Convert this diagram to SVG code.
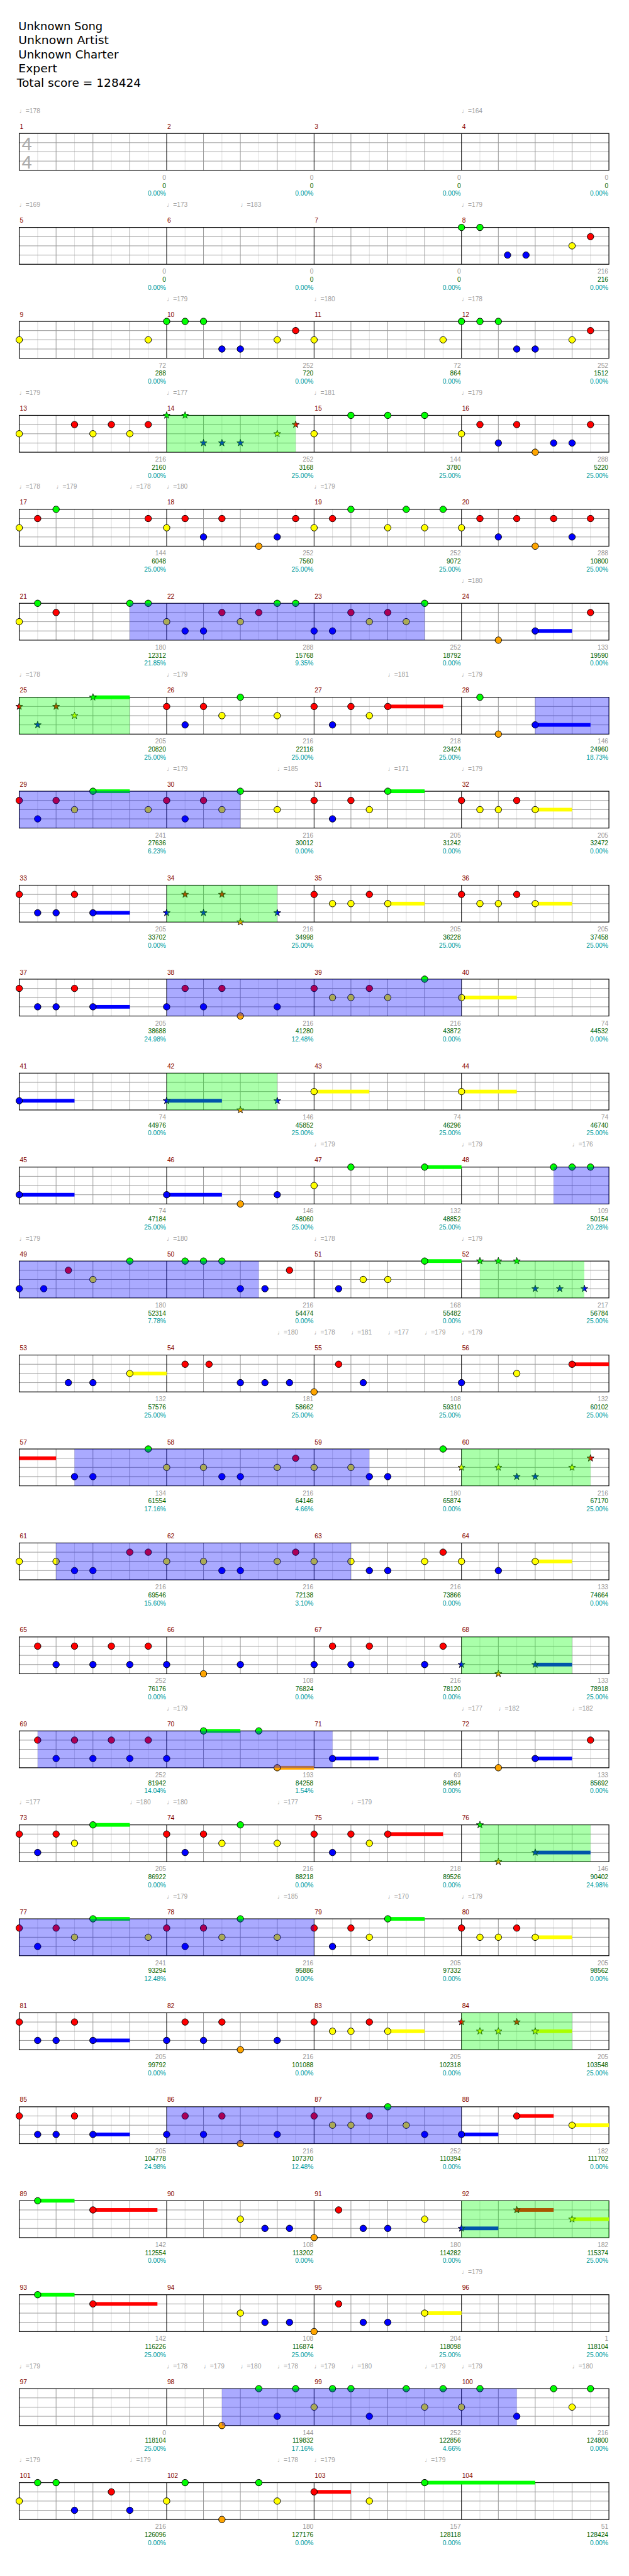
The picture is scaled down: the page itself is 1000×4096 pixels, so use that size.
<svg xmlns="http://www.w3.org/2000/svg" width="1000" height="4096" viewBox="0 0 1000 4096">
<style>
text{font-family:"Liberation Sans","DejaVu Sans",sans-serif}
.ti{font-family:"DejaVu Sans","Liberation Sans",sans-serif;font-size:18.5px;fill:#000}
.mn{font-size:10.5px;fill:#800000}
.tp{font-size:10.5px;fill:#a0a0a0}
.sc{font-size:10.5px;text-anchor:end}
.s1{fill:#999}.s2{fill:#006400}.s3{fill:#009999}
.ts{font-size:30px;fill:#aaa}
circle{stroke:#000;stroke-width:1}
.g{fill:#00ff00}.r{fill:#ff0000}.y{fill:#ffff00}.b{fill:#0000ff}.o{fill:#ffa500}
.bl{fill:#0000ff;fill-opacity:.333}
.gr{fill:#00ff00;fill-opacity:.333}
</style>
<defs>
<path id="st" d="M0,-6L1.41,-1.94L5.71,-1.85L2.28,0.74L3.53,4.85L0,2.4L-3.53,4.85L-2.28,0.74L-5.71,-1.85L-1.41,-1.94Z" stroke="#000" stroke-width="0.8"/>
<g id="staff">
<rect width="960" height="60" fill="#fff"/>
<path d="M30,0V60M90,0V60M150,0V60M210,0V60M270,0V60M330,0V60M390,0V60M450,0V60M510,0V60M570,0V60M630,0V60M690,0V60M750,0V60M810,0V60M870,0V60M930,0V60" stroke="#ddd" stroke-width="1" fill="none"/>
<path d="M60,0V60M120,0V60M180,0V60M300,0V60M360,0V60M420,0V60M540,0V60M600,0V60M660,0V60M780,0V60M840,0V60M900,0V60M0,15H960M0,30H960M0,45H960" stroke="#999" stroke-width="1" fill="none"/>
<path d="M240,0V60M480,0V60M720,0V60" stroke="#000" stroke-width="1" fill="none"/>
<rect width="960" height="60" fill="none" stroke="#000" stroke-width="1.2"/>
</g>
</defs>
<rect width="1000" height="4096" fill="#fff"/>
<g transform="scale(0.9765625)">
<g id="title">
<text class="ti" x="30" y="49" textLength="137" lengthAdjust="spacingAndGlyphs">Unknown Song</text>
<text class="ti" x="30" y="72" textLength="147" lengthAdjust="spacingAndGlyphs">Unknown Artist</text>
<text class="ti" x="30" y="95" textLength="163" lengthAdjust="spacingAndGlyphs">Unknown Charter</text>
<text class="ti" x="30" y="118" textLength="63" lengthAdjust="spacingAndGlyphs">Expert</text>
<text class="ti" x="27.5" y="141.5" textLength="202" lengthAdjust="spacingAndGlyphs">Total score = 128424</text>
</g>

<g id="row1" transform="translate(31.3,217.3)">
<use href="#staff"/>
<text class="ts" x="4" y="27">4</text><text class="ts" x="4" y="57.5">4</text>
<text class="tp" x="0" y="-33.3">♩=178</text><text class="tp" x="720" y="-33.3">♩=164</text>
<text class="mn" x="1" y="-7.6">1</text><text class="mn" x="241" y="-7.6">2</text><text class="mn" x="481" y="-7.6">3</text><text class="mn" x="721" y="-7.6">4</text>
<text class="sc"><tspan class="s1" x="239" y="75.4">0</tspan><tspan class="s2" x="239" y="88.4">0</tspan><tspan class="s3" x="239" y="101.5">0.00%</tspan></text>
<text class="sc"><tspan class="s1" x="479" y="75.4">0</tspan><tspan class="s2" x="479" y="88.4">0</tspan><tspan class="s3" x="479" y="101.5">0.00%</tspan></text>
<text class="sc"><tspan class="s1" x="719" y="75.4">0</tspan><tspan class="s2" x="719" y="88.4">0</tspan><tspan class="s3" x="719" y="101.5">0.00%</tspan></text>
<text class="sc"><tspan class="s1" x="959" y="75.4">0</tspan><tspan class="s2" x="959" y="88.4">0</tspan><tspan class="s3" x="959" y="101.5">0.00%</tspan></text>
</g>

<g id="row2" transform="translate(31.3,370.3)">
<use href="#staff"/>
<text class="tp" x="0" y="-33.3">♩=169</text><text class="tp" x="240" y="-33.3">♩=173</text><text class="tp" x="360" y="-33.3">♩=183</text><text class="tp" x="720" y="-33.3">♩=179</text>
<text class="mn" x="1" y="-7.6">5</text><text class="mn" x="241" y="-7.6">6</text><text class="mn" x="481" y="-7.6">7</text><text class="mn" x="721" y="-7.6">8</text>
<circle class="g" cx="720" cy="0" r="5.3"/><circle class="g" cx="750" cy="0" r="5.3"/><circle class="b" cx="795" cy="45" r="5.3"/><circle class="b" cx="825" cy="45" r="5.3"/><circle class="y" cx="900" cy="30" r="5.3"/><circle class="r" cx="930" cy="15" r="5.3"/>
<text class="sc"><tspan class="s1" x="239" y="75.4">0</tspan><tspan class="s2" x="239" y="88.4">0</tspan><tspan class="s3" x="239" y="101.5">0.00%</tspan></text>
<text class="sc"><tspan class="s1" x="479" y="75.4">0</tspan><tspan class="s2" x="479" y="88.4">0</tspan><tspan class="s3" x="479" y="101.5">0.00%</tspan></text>
<text class="sc"><tspan class="s1" x="719" y="75.4">0</tspan><tspan class="s2" x="719" y="88.4">0</tspan><tspan class="s3" x="719" y="101.5">0.00%</tspan></text>
<text class="sc"><tspan class="s1" x="959" y="75.4">216</tspan><tspan class="s2" x="959" y="88.4">216</tspan><tspan class="s3" x="959" y="101.5">0.00%</tspan></text>
</g>

<g id="row3" transform="translate(31.3,523.3)">
<use href="#staff"/>
<text class="tp" x="240" y="-33.3">♩=179</text><text class="tp" x="480" y="-33.3">♩=180</text><text class="tp" x="720" y="-33.3">♩=178</text>
<text class="mn" x="1" y="-7.6">9</text><text class="mn" x="241" y="-7.6">10</text><text class="mn" x="481" y="-7.6">11</text><text class="mn" x="721" y="-7.6">12</text>
<circle class="y" cx="0" cy="30" r="5.3"/><circle class="y" cx="210" cy="30" r="5.3"/><circle class="g" cx="240" cy="0" r="5.3"/><circle class="g" cx="270" cy="0" r="5.3"/><circle class="g" cx="300" cy="0" r="5.3"/><circle class="b" cx="330" cy="45" r="5.3"/><circle class="b" cx="360" cy="45" r="5.3"/><circle class="y" cx="420" cy="30" r="5.3"/><circle class="r" cx="450" cy="15" r="5.3"/><circle class="y" cx="480" cy="30" r="5.3"/><circle class="y" cx="690" cy="30" r="5.3"/><circle class="g" cx="720" cy="0" r="5.3"/><circle class="g" cx="750" cy="0" r="5.3"/><circle class="g" cx="780" cy="0" r="5.3"/><circle class="b" cx="810" cy="45" r="5.3"/><circle class="b" cx="840" cy="45" r="5.3"/><circle class="y" cx="900" cy="30" r="5.3"/><circle class="r" cx="930" cy="15" r="5.3"/>
<text class="sc"><tspan class="s1" x="239" y="75.4">72</tspan><tspan class="s2" x="239" y="88.4">288</tspan><tspan class="s3" x="239" y="101.5">0.00%</tspan></text>
<text class="sc"><tspan class="s1" x="479" y="75.4">252</tspan><tspan class="s2" x="479" y="88.4">720</tspan><tspan class="s3" x="479" y="101.5">0.00%</tspan></text>
<text class="sc"><tspan class="s1" x="719" y="75.4">72</tspan><tspan class="s2" x="719" y="88.4">864</tspan><tspan class="s3" x="719" y="101.5">0.00%</tspan></text>
<text class="sc"><tspan class="s1" x="959" y="75.4">252</tspan><tspan class="s2" x="959" y="88.4">1512</tspan><tspan class="s3" x="959" y="101.5">0.00%</tspan></text>
</g>

<g id="row4" transform="translate(31.3,676.3)">
<use href="#staff"/>
<text class="tp" x="0" y="-33.3">♩=179</text><text class="tp" x="240" y="-33.3">♩=177</text><text class="tp" x="480" y="-33.3">♩=181</text><text class="tp" x="720" y="-33.3">♩=179</text>
<text class="mn" x="1" y="-7.6">13</text><text class="mn" x="241" y="-7.6">14</text><text class="mn" x="481" y="-7.6">15</text><text class="mn" x="721" y="-7.6">16</text>
<circle class="y" cx="0" cy="30" r="5.3"/><circle class="r" cx="90" cy="15" r="5.3"/><circle class="y" cx="120" cy="30" r="5.3"/><circle class="r" cx="150" cy="15" r="5.3"/><circle class="y" cx="180" cy="30" r="5.3"/><circle class="r" cx="210" cy="15" r="5.3"/>
<use href="#st" class="g" x="240" y="0"/><use href="#st" class="g" x="270" y="0"/><use href="#st" class="b" x="300" y="45"/><use href="#st" class="b" x="330" y="45"/><use href="#st" class="b" x="360" y="45"/><use href="#st" class="y" x="420" y="30"/><use href="#st" class="r" x="450" y="15"/>
<circle class="y" cx="480" cy="30" r="5.3"/><circle class="g" cx="540" cy="0" r="5.3"/><circle class="g" cx="600" cy="0" r="5.3"/><circle class="g" cx="660" cy="0" r="5.3"/><circle class="y" cx="720" cy="30" r="5.3"/><circle class="r" cx="750" cy="15" r="5.3"/><circle class="b" cx="780" cy="45" r="5.3"/><circle class="r" cx="810" cy="15" r="5.3"/><circle class="o" cx="840" cy="60" r="5.3"/><circle class="b" cx="870" cy="45" r="5.3"/><circle class="b" cx="900" cy="45" r="5.3"/><circle class="r" cx="930" cy="15" r="5.3"/>
<rect class="gr" x="240" y="0" width="210" height="60"/>
<text class="sc"><tspan class="s1" x="239" y="75.4">216</tspan><tspan class="s2" x="239" y="88.4">2160</tspan><tspan class="s3" x="239" y="101.5">0.00%</tspan></text>
<text class="sc"><tspan class="s1" x="479" y="75.4">252</tspan><tspan class="s2" x="479" y="88.4">3168</tspan><tspan class="s3" x="479" y="101.5">25.00%</tspan></text>
<text class="sc"><tspan class="s1" x="719" y="75.4">144</tspan><tspan class="s2" x="719" y="88.4">3780</tspan><tspan class="s3" x="719" y="101.5">25.00%</tspan></text>
<text class="sc"><tspan class="s1" x="959" y="75.4">288</tspan><tspan class="s2" x="959" y="88.4">5220</tspan><tspan class="s3" x="959" y="101.5">25.00%</tspan></text>
</g>

<g id="row5" transform="translate(31.3,829.3)">
<use href="#staff"/>
<text class="tp" x="0" y="-33.3">♩=178</text><text class="tp" x="60" y="-33.3">♩=179</text><text class="tp" x="180" y="-33.3">♩=178</text><text class="tp" x="240" y="-33.3">♩=180</text><text class="tp" x="480" y="-33.3">♩=179</text>
<text class="mn" x="1" y="-7.6">17</text><text class="mn" x="241" y="-7.6">18</text><text class="mn" x="481" y="-7.6">19</text><text class="mn" x="721" y="-7.6">20</text>
<circle class="y" cx="0" cy="30" r="5.3"/><circle class="r" cx="30" cy="15" r="5.3"/><circle class="g" cx="60" cy="0" r="5.3"/><circle class="r" cx="210" cy="15" r="5.3"/><circle class="y" cx="240" cy="30" r="5.3"/><circle class="r" cx="270" cy="15" r="5.3"/><circle class="b" cx="300" cy="45" r="5.3"/><circle class="r" cx="330" cy="15" r="5.3"/><circle class="o" cx="390" cy="60" r="5.3"/><circle class="b" cx="420" cy="45" r="5.3"/><circle class="r" cx="450" cy="15" r="5.3"/><circle class="y" cx="480" cy="30" r="5.3"/><circle class="r" cx="510" cy="15" r="5.3"/><circle class="g" cx="540" cy="0" r="5.3"/><circle class="y" cx="600" cy="30" r="5.3"/><circle class="g" cx="630" cy="0" r="5.3"/><circle class="y" cx="660" cy="30" r="5.3"/><circle class="g" cx="690" cy="0" r="5.3"/><circle class="y" cx="720" cy="30" r="5.3"/><circle class="r" cx="750" cy="15" r="5.3"/><circle class="b" cx="780" cy="45" r="5.3"/><circle class="r" cx="810" cy="15" r="5.3"/><circle class="o" cx="840" cy="60" r="5.3"/><circle class="r" cx="870" cy="15" r="5.3"/><circle class="b" cx="900" cy="45" r="5.3"/><circle class="r" cx="930" cy="15" r="5.3"/>
<text class="sc"><tspan class="s1" x="239" y="75.4">144</tspan><tspan class="s2" x="239" y="88.4">6048</tspan><tspan class="s3" x="239" y="101.5">25.00%</tspan></text>
<text class="sc"><tspan class="s1" x="479" y="75.4">252</tspan><tspan class="s2" x="479" y="88.4">7560</tspan><tspan class="s3" x="479" y="101.5">25.00%</tspan></text>
<text class="sc"><tspan class="s1" x="719" y="75.4">252</tspan><tspan class="s2" x="719" y="88.4">9072</tspan><tspan class="s3" x="719" y="101.5">25.00%</tspan></text>
<text class="sc"><tspan class="s1" x="959" y="75.4">288</tspan><tspan class="s2" x="959" y="88.4">10800</tspan><tspan class="s3" x="959" y="101.5">25.00%</tspan></text>
</g>

<g id="row6" transform="translate(31.3,982.3)">
<use href="#staff"/>
<text class="tp" x="720" y="-33.3">♩=180</text>
<text class="mn" x="1" y="-7.6">21</text><text class="mn" x="241" y="-7.6">22</text><text class="mn" x="481" y="-7.6">23</text><text class="mn" x="721" y="-7.6">24</text>
<rect class="b" x="840" y="42" width="60" height="6"/>
<circle class="y" cx="0" cy="30" r="5.3"/><circle class="g" cx="30" cy="0" r="5.3"/><circle class="r" cx="60" cy="15" r="5.3"/><circle class="g" cx="180" cy="0" r="5.3"/><circle class="g" cx="210" cy="0" r="5.3"/><circle class="y" cx="240" cy="30" r="5.3"/><circle class="b" cx="270" cy="45" r="5.3"/><circle class="b" cx="300" cy="45" r="5.3"/><circle class="r" cx="330" cy="15" r="5.3"/><circle class="y" cx="360" cy="30" r="5.3"/><circle class="r" cx="390" cy="15" r="5.3"/><circle class="g" cx="420" cy="0" r="5.3"/><circle class="g" cx="450" cy="0" r="5.3"/><circle class="b" cx="480" cy="45" r="5.3"/><circle class="b" cx="510" cy="45" r="5.3"/><circle class="r" cx="540" cy="15" r="5.3"/><circle class="y" cx="570" cy="30" r="5.3"/><circle class="r" cx="600" cy="15" r="5.3"/><circle class="y" cx="630" cy="30" r="5.3"/><circle class="g" cx="660" cy="0" r="5.3"/><circle class="o" cx="780" cy="60" r="5.3"/><circle class="b" cx="840" cy="45" r="5.3"/><circle class="r" cx="930" cy="15" r="5.3"/>
<rect class="bl" x="180" y="0" width="480" height="60"/>
<text class="sc"><tspan class="s1" x="239" y="75.4">180</tspan><tspan class="s2" x="239" y="88.4">12312</tspan><tspan class="s3" x="239" y="101.5">21.85%</tspan></text>
<text class="sc"><tspan class="s1" x="479" y="75.4">288</tspan><tspan class="s2" x="479" y="88.4">15768</tspan><tspan class="s3" x="479" y="101.5">9.35%</tspan></text>
<text class="sc"><tspan class="s1" x="719" y="75.4">252</tspan><tspan class="s2" x="719" y="88.4">18792</tspan><tspan class="s3" x="719" y="101.5">0.00%</tspan></text>
<text class="sc"><tspan class="s1" x="959" y="75.4">133</tspan><tspan class="s2" x="959" y="88.4">19590</tspan><tspan class="s3" x="959" y="101.5">0.00%</tspan></text>
</g>

<g id="row7" transform="translate(31.3,1135.3)">
<use href="#staff"/>
<text class="tp" x="0" y="-33.3">♩=178</text><text class="tp" x="240" y="-33.3">♩=179</text><text class="tp" x="600" y="-33.3">♩=181</text><text class="tp" x="720" y="-33.3">♩=179</text>
<text class="mn" x="1" y="-7.6">25</text><text class="mn" x="241" y="-7.6">26</text><text class="mn" x="481" y="-7.6">27</text><text class="mn" x="721" y="-7.6">28</text>
<rect class="g" x="120" y="-3" width="60" height="6"/><rect class="r" x="600" y="12" width="90" height="6"/><rect class="b" x="840" y="42" width="90" height="6"/>
<use href="#st" class="r" x="0" y="15"/><use href="#st" class="b" x="30" y="45"/><use href="#st" class="r" x="60" y="15"/><use href="#st" class="y" x="90" y="30"/><use href="#st" class="g" x="120" y="0"/>
<circle class="r" cx="240" cy="15" r="5.3"/><circle class="b" cx="270" cy="45" r="5.3"/><circle class="r" cx="300" cy="15" r="5.3"/><circle class="y" cx="330" cy="30" r="5.3"/><circle class="g" cx="360" cy="0" r="5.3"/><circle class="y" cx="420" cy="30" r="5.3"/><circle class="r" cx="480" cy="15" r="5.3"/><circle class="b" cx="510" cy="45" r="5.3"/><circle class="r" cx="540" cy="15" r="5.3"/><circle class="y" cx="570" cy="30" r="5.3"/><circle class="r" cx="600" cy="15" r="5.3"/><circle class="g" cx="750" cy="0" r="5.3"/><circle class="o" cx="780" cy="60" r="5.3"/><circle class="b" cx="840" cy="45" r="5.3"/>
<rect class="gr" x="0" y="0" width="180" height="60"/><rect class="bl" x="840" y="0" width="120" height="60"/>
<text class="sc"><tspan class="s1" x="239" y="75.4">205</tspan><tspan class="s2" x="239" y="88.4">20820</tspan><tspan class="s3" x="239" y="101.5">25.00%</tspan></text>
<text class="sc"><tspan class="s1" x="479" y="75.4">216</tspan><tspan class="s2" x="479" y="88.4">22116</tspan><tspan class="s3" x="479" y="101.5">25.00%</tspan></text>
<text class="sc"><tspan class="s1" x="719" y="75.4">218</tspan><tspan class="s2" x="719" y="88.4">23424</tspan><tspan class="s3" x="719" y="101.5">25.00%</tspan></text>
<text class="sc"><tspan class="s1" x="959" y="75.4">146</tspan><tspan class="s2" x="959" y="88.4">24960</tspan><tspan class="s3" x="959" y="101.5">18.73%</tspan></text>
</g>

<g id="row8" transform="translate(31.3,1288.3)">
<use href="#staff"/>
<text class="tp" x="240" y="-33.3">♩=179</text><text class="tp" x="420" y="-33.3">♩=185</text><text class="tp" x="600" y="-33.3">♩=171</text><text class="tp" x="720" y="-33.3">♩=179</text>
<text class="mn" x="1" y="-7.6">29</text><text class="mn" x="241" y="-7.6">30</text><text class="mn" x="481" y="-7.6">31</text><text class="mn" x="721" y="-7.6">32</text>
<rect class="g" x="120" y="-3" width="60" height="6"/><rect class="g" x="600" y="-3" width="60" height="6"/><rect class="y" x="840" y="27" width="60" height="6"/>
<circle class="r" cx="0" cy="15" r="5.3"/><circle class="b" cx="30" cy="45" r="5.3"/><circle class="r" cx="60" cy="15" r="5.3"/><circle class="y" cx="90" cy="30" r="5.3"/><circle class="g" cx="120" cy="0" r="5.3"/><circle class="y" cx="210" cy="30" r="5.3"/><circle class="r" cx="240" cy="15" r="5.3"/><circle class="b" cx="270" cy="45" r="5.3"/><circle class="r" cx="300" cy="15" r="5.3"/><circle class="y" cx="330" cy="30" r="5.3"/><circle class="g" cx="360" cy="0" r="5.3"/><circle class="y" cx="420" cy="30" r="5.3"/><circle class="r" cx="480" cy="15" r="5.3"/><circle class="b" cx="510" cy="45" r="5.3"/><circle class="r" cx="540" cy="15" r="5.3"/><circle class="y" cx="570" cy="30" r="5.3"/><circle class="g" cx="600" cy="0" r="5.3"/><circle class="r" cx="720" cy="15" r="5.3"/><circle class="y" cx="750" cy="30" r="5.3"/><circle class="y" cx="780" cy="30" r="5.3"/><circle class="r" cx="810" cy="15" r="5.3"/><circle class="y" cx="840" cy="30" r="5.3"/>
<rect class="bl" x="0" y="0" width="360" height="60"/>
<text class="sc"><tspan class="s1" x="239" y="75.4">241</tspan><tspan class="s2" x="239" y="88.4">27636</tspan><tspan class="s3" x="239" y="101.5">6.23%</tspan></text>
<text class="sc"><tspan class="s1" x="479" y="75.4">216</tspan><tspan class="s2" x="479" y="88.4">30012</tspan><tspan class="s3" x="479" y="101.5">0.00%</tspan></text>
<text class="sc"><tspan class="s1" x="719" y="75.4">205</tspan><tspan class="s2" x="719" y="88.4">31242</tspan><tspan class="s3" x="719" y="101.5">0.00%</tspan></text>
<text class="sc"><tspan class="s1" x="959" y="75.4">205</tspan><tspan class="s2" x="959" y="88.4">32472</tspan><tspan class="s3" x="959" y="101.5">0.00%</tspan></text>
</g>

<g id="row9" transform="translate(31.3,1441.3)">
<use href="#staff"/>
<text class="mn" x="1" y="-7.6">33</text><text class="mn" x="241" y="-7.6">34</text><text class="mn" x="481" y="-7.6">35</text><text class="mn" x="721" y="-7.6">36</text>
<rect class="b" x="120" y="42" width="60" height="6"/><rect class="y" x="600" y="27" width="60" height="6"/><rect class="y" x="840" y="27" width="60" height="6"/>
<circle class="r" cx="0" cy="15" r="5.3"/><circle class="b" cx="30" cy="45" r="5.3"/><circle class="b" cx="60" cy="45" r="5.3"/><circle class="r" cx="90" cy="15" r="5.3"/><circle class="b" cx="120" cy="45" r="5.3"/>
<use href="#st" class="b" x="240" y="45"/><use href="#st" class="r" x="270" y="15"/><use href="#st" class="b" x="300" y="45"/><use href="#st" class="r" x="330" y="15"/><use href="#st" class="o" x="360" y="60"/><use href="#st" class="b" x="420" y="45"/>
<circle class="r" cx="480" cy="15" r="5.3"/><circle class="y" cx="510" cy="30" r="5.3"/><circle class="y" cx="540" cy="30" r="5.3"/><circle class="r" cx="570" cy="15" r="5.3"/><circle class="y" cx="600" cy="30" r="5.3"/><circle class="r" cx="720" cy="15" r="5.3"/><circle class="y" cx="750" cy="30" r="5.3"/><circle class="y" cx="780" cy="30" r="5.3"/><circle class="r" cx="810" cy="15" r="5.3"/><circle class="y" cx="840" cy="30" r="5.3"/>
<rect class="gr" x="240" y="0" width="180" height="60"/>
<text class="sc"><tspan class="s1" x="239" y="75.4">205</tspan><tspan class="s2" x="239" y="88.4">33702</tspan><tspan class="s3" x="239" y="101.5">0.00%</tspan></text>
<text class="sc"><tspan class="s1" x="479" y="75.4">216</tspan><tspan class="s2" x="479" y="88.4">34998</tspan><tspan class="s3" x="479" y="101.5">25.00%</tspan></text>
<text class="sc"><tspan class="s1" x="719" y="75.4">205</tspan><tspan class="s2" x="719" y="88.4">36228</tspan><tspan class="s3" x="719" y="101.5">25.00%</tspan></text>
<text class="sc"><tspan class="s1" x="959" y="75.4">205</tspan><tspan class="s2" x="959" y="88.4">37458</tspan><tspan class="s3" x="959" y="101.5">25.00%</tspan></text>
</g>

<g id="row10" transform="translate(31.3,1594.3)">
<use href="#staff"/>
<text class="mn" x="1" y="-7.6">37</text><text class="mn" x="241" y="-7.6">38</text><text class="mn" x="481" y="-7.6">39</text><text class="mn" x="721" y="-7.6">40</text>
<rect class="b" x="120" y="42" width="60" height="6"/><rect class="y" x="720" y="27" width="90" height="6"/>
<circle class="r" cx="0" cy="15" r="5.3"/><circle class="b" cx="30" cy="45" r="5.3"/><circle class="b" cx="60" cy="45" r="5.3"/><circle class="r" cx="90" cy="15" r="5.3"/><circle class="b" cx="120" cy="45" r="5.3"/><circle class="b" cx="240" cy="45" r="5.3"/><circle class="r" cx="270" cy="15" r="5.3"/><circle class="b" cx="300" cy="45" r="5.3"/><circle class="r" cx="330" cy="15" r="5.3"/><circle class="o" cx="360" cy="60" r="5.3"/><circle class="b" cx="420" cy="45" r="5.3"/><circle class="r" cx="480" cy="15" r="5.3"/><circle class="y" cx="510" cy="30" r="5.3"/><circle class="y" cx="540" cy="30" r="5.3"/><circle class="r" cx="570" cy="15" r="5.3"/><circle class="y" cx="600" cy="30" r="5.3"/><circle class="g" cx="660" cy="0" r="5.3"/><circle class="y" cx="720" cy="30" r="5.3"/>
<rect class="bl" x="240" y="0" width="480" height="60"/>
<text class="sc"><tspan class="s1" x="239" y="75.4">205</tspan><tspan class="s2" x="239" y="88.4">38688</tspan><tspan class="s3" x="239" y="101.5">24.98%</tspan></text>
<text class="sc"><tspan class="s1" x="479" y="75.4">216</tspan><tspan class="s2" x="479" y="88.4">41280</tspan><tspan class="s3" x="479" y="101.5">12.48%</tspan></text>
<text class="sc"><tspan class="s1" x="719" y="75.4">216</tspan><tspan class="s2" x="719" y="88.4">43872</tspan><tspan class="s3" x="719" y="101.5">0.00%</tspan></text>
<text class="sc"><tspan class="s1" x="959" y="75.4">74</tspan><tspan class="s2" x="959" y="88.4">44532</tspan><tspan class="s3" x="959" y="101.5">0.00%</tspan></text>
</g>

<g id="row11" transform="translate(31.3,1747.3)">
<use href="#staff"/>
<text class="mn" x="1" y="-7.6">41</text><text class="mn" x="241" y="-7.6">42</text><text class="mn" x="481" y="-7.6">43</text><text class="mn" x="721" y="-7.6">44</text>
<rect class="b" x="0" y="42" width="90" height="6"/><rect class="b" x="240" y="42" width="90" height="6"/><rect class="y" x="480" y="27" width="90" height="6"/><rect class="y" x="720" y="27" width="90" height="6"/>
<circle class="b" cx="0" cy="45" r="5.3"/>
<use href="#st" class="b" x="240" y="45"/><use href="#st" class="o" x="360" y="60"/><use href="#st" class="b" x="420" y="45"/>
<circle class="y" cx="480" cy="30" r="5.3"/><circle class="y" cx="720" cy="30" r="5.3"/>
<rect class="gr" x="240" y="0" width="180" height="60"/>
<text class="sc"><tspan class="s1" x="239" y="75.4">74</tspan><tspan class="s2" x="239" y="88.4">44976</tspan><tspan class="s3" x="239" y="101.5">0.00%</tspan></text>
<text class="sc"><tspan class="s1" x="479" y="75.4">146</tspan><tspan class="s2" x="479" y="88.4">45852</tspan><tspan class="s3" x="479" y="101.5">25.00%</tspan></text>
<text class="sc"><tspan class="s1" x="719" y="75.4">74</tspan><tspan class="s2" x="719" y="88.4">46296</tspan><tspan class="s3" x="719" y="101.5">25.00%</tspan></text>
<text class="sc"><tspan class="s1" x="959" y="75.4">74</tspan><tspan class="s2" x="959" y="88.4">46740</tspan><tspan class="s3" x="959" y="101.5">25.00%</tspan></text>
</g>

<g id="row12" transform="translate(31.3,1900.3)">
<use href="#staff"/>
<text class="tp" x="480" y="-33.3">♩=179</text><text class="tp" x="720" y="-33.3">♩=179</text><text class="tp" x="900" y="-33.3">♩=176</text>
<text class="mn" x="1" y="-7.6">45</text><text class="mn" x="241" y="-7.6">46</text><text class="mn" x="481" y="-7.6">47</text><text class="mn" x="721" y="-7.6">48</text>
<rect class="b" x="0" y="42" width="90" height="6"/><rect class="b" x="240" y="42" width="90" height="6"/><rect class="g" x="660" y="-3" width="60" height="6"/>
<circle class="b" cx="0" cy="45" r="5.3"/><circle class="b" cx="240" cy="45" r="5.3"/><circle class="o" cx="360" cy="60" r="5.3"/><circle class="b" cx="420" cy="45" r="5.3"/><circle class="y" cx="480" cy="30" r="5.3"/><circle class="g" cx="540" cy="0" r="5.3"/><circle class="g" cx="660" cy="0" r="5.3"/><circle class="g" cx="870" cy="0" r="5.3"/><circle class="g" cx="900" cy="0" r="5.3"/><circle class="g" cx="930" cy="0" r="5.3"/>
<rect class="bl" x="870" y="0" width="90" height="60"/>
<text class="sc"><tspan class="s1" x="239" y="75.4">74</tspan><tspan class="s2" x="239" y="88.4">47184</tspan><tspan class="s3" x="239" y="101.5">25.00%</tspan></text>
<text class="sc"><tspan class="s1" x="479" y="75.4">146</tspan><tspan class="s2" x="479" y="88.4">48060</tspan><tspan class="s3" x="479" y="101.5">25.00%</tspan></text>
<text class="sc"><tspan class="s1" x="719" y="75.4">132</tspan><tspan class="s2" x="719" y="88.4">48852</tspan><tspan class="s3" x="719" y="101.5">25.00%</tspan></text>
<text class="sc"><tspan class="s1" x="959" y="75.4">109</tspan><tspan class="s2" x="959" y="88.4">50154</tspan><tspan class="s3" x="959" y="101.5">20.28%</tspan></text>
</g>

<g id="row13" transform="translate(31.3,2053.3)">
<use href="#staff"/>
<text class="tp" x="0" y="-33.3">♩=179</text><text class="tp" x="240" y="-33.3">♩=180</text><text class="tp" x="480" y="-33.3">♩=178</text><text class="tp" x="720" y="-33.3">♩=179</text>
<text class="mn" x="1" y="-7.6">49</text><text class="mn" x="241" y="-7.6">50</text><text class="mn" x="481" y="-7.6">51</text><text class="mn" x="721" y="-7.6">52</text>
<rect class="g" x="660" y="-3" width="60" height="6"/>
<circle class="b" cx="0" cy="45" r="5.3"/><circle class="b" cx="40" cy="45" r="5.3"/><circle class="r" cx="80" cy="15" r="5.3"/><circle class="y" cx="120" cy="30" r="5.3"/><circle class="g" cx="180" cy="0" r="5.3"/><circle class="g" cx="270" cy="0" r="5.3"/><circle class="g" cx="300" cy="0" r="5.3"/><circle class="g" cx="330" cy="0" r="5.3"/><circle class="b" cx="360" cy="45" r="5.3"/><circle class="b" cx="400" cy="45" r="5.3"/><circle class="r" cx="440" cy="15" r="5.3"/><circle class="b" cx="520" cy="45" r="5.3"/><circle class="y" cx="560" cy="30" r="5.3"/><circle class="y" cx="600" cy="30" r="5.3"/><circle class="g" cx="660" cy="0" r="5.3"/>
<use href="#st" class="g" x="750" y="0"/><use href="#st" class="g" x="780" y="0"/><use href="#st" class="g" x="810" y="0"/><use href="#st" class="b" x="840" y="45"/><use href="#st" class="b" x="880" y="45"/><use href="#st" class="b" x="920" y="45"/>
<rect class="bl" x="0" y="0" width="390" height="60"/><rect class="gr" x="750" y="0" width="170" height="60"/>
<text class="sc"><tspan class="s1" x="239" y="75.4">180</tspan><tspan class="s2" x="239" y="88.4">52314</tspan><tspan class="s3" x="239" y="101.5">7.78%</tspan></text>
<text class="sc"><tspan class="s1" x="479" y="75.4">216</tspan><tspan class="s2" x="479" y="88.4">54474</tspan><tspan class="s3" x="479" y="101.5">0.00%</tspan></text>
<text class="sc"><tspan class="s1" x="719" y="75.4">168</tspan><tspan class="s2" x="719" y="88.4">55482</tspan><tspan class="s3" x="719" y="101.5">0.00%</tspan></text>
<text class="sc"><tspan class="s1" x="959" y="75.4">217</tspan><tspan class="s2" x="959" y="88.4">56784</tspan><tspan class="s3" x="959" y="101.5">25.00%</tspan></text>
</g>

<g id="row14" transform="translate(31.3,2206.3)">
<use href="#staff"/>
<text class="tp" x="420" y="-33.3">♩=180</text><text class="tp" x="480" y="-33.3">♩=178</text><text class="tp" x="540" y="-33.3">♩=181</text><text class="tp" x="600" y="-33.3">♩=177</text><text class="tp" x="660" y="-33.3">♩=179</text><text class="tp" x="720" y="-33.3">♩=179</text>
<text class="mn" x="1" y="-7.6">53</text><text class="mn" x="241" y="-7.6">54</text><text class="mn" x="481" y="-7.6">55</text><text class="mn" x="721" y="-7.6">56</text>
<rect class="y" x="180" y="27" width="60" height="6"/><rect class="r" x="900" y="12" width="60" height="6"/>
<circle class="b" cx="80" cy="45" r="5.3"/><circle class="b" cx="120" cy="45" r="5.3"/><circle class="y" cx="180" cy="30" r="5.3"/><circle class="r" cx="270" cy="15" r="5.3"/><circle class="r" cx="309" cy="15" r="5.3"/><circle class="b" cx="360" cy="45" r="5.3"/><circle class="b" cx="400" cy="45" r="5.3"/><circle class="b" cx="440" cy="45" r="5.3"/><circle class="o" cx="480" cy="60" r="5.3"/><circle class="r" cx="520" cy="15" r="5.3"/><circle class="b" cx="560" cy="45" r="5.3"/><circle class="b" cx="720" cy="45" r="5.3"/><circle class="y" cx="810" cy="30" r="5.3"/><circle class="r" cx="900" cy="15" r="5.3"/>
<text class="sc"><tspan class="s1" x="239" y="75.4">132</tspan><tspan class="s2" x="239" y="88.4">57576</tspan><tspan class="s3" x="239" y="101.5">25.00%</tspan></text>
<text class="sc"><tspan class="s1" x="479" y="75.4">181</tspan><tspan class="s2" x="479" y="88.4">58662</tspan><tspan class="s3" x="479" y="101.5">25.00%</tspan></text>
<text class="sc"><tspan class="s1" x="719" y="75.4">108</tspan><tspan class="s2" x="719" y="88.4">59310</tspan><tspan class="s3" x="719" y="101.5">25.00%</tspan></text>
<text class="sc"><tspan class="s1" x="959" y="75.4">132</tspan><tspan class="s2" x="959" y="88.4">60102</tspan><tspan class="s3" x="959" y="101.5">25.00%</tspan></text>
</g>

<g id="row15" transform="translate(31.3,2359.3)">
<use href="#staff"/>
<text class="mn" x="1" y="-7.6">57</text><text class="mn" x="241" y="-7.6">58</text><text class="mn" x="481" y="-7.6">59</text><text class="mn" x="721" y="-7.6">60</text>
<rect class="r" x="0" y="12" width="60" height="6"/>
<circle class="b" cx="90" cy="45" r="5.3"/><circle class="b" cx="120" cy="45" r="5.3"/><circle class="g" cx="210" cy="0" r="5.3"/><circle class="y" cx="240" cy="30" r="5.3"/><circle class="y" cx="300" cy="30" r="5.3"/><circle class="b" cx="330" cy="45" r="5.3"/><circle class="b" cx="360" cy="45" r="5.3"/><circle class="y" cx="420" cy="30" r="5.3"/><circle class="r" cx="450" cy="15" r="5.3"/><circle class="y" cx="480" cy="30" r="5.3"/><circle class="y" cx="540" cy="30" r="5.3"/><circle class="b" cx="570" cy="45" r="5.3"/><circle class="b" cx="600" cy="45" r="5.3"/><circle class="g" cx="690" cy="0" r="5.3"/>
<use href="#st" class="y" x="720" y="30"/><use href="#st" class="y" x="780" y="30"/><use href="#st" class="b" x="810" y="45"/><use href="#st" class="b" x="840" y="45"/><use href="#st" class="y" x="900" y="30"/><use href="#st" class="r" x="930" y="15"/>
<rect class="bl" x="90" y="0" width="480" height="60"/><rect class="gr" x="720" y="0" width="210" height="60"/>
<text class="sc"><tspan class="s1" x="239" y="75.4">134</tspan><tspan class="s2" x="239" y="88.4">61554</tspan><tspan class="s3" x="239" y="101.5">17.16%</tspan></text>
<text class="sc"><tspan class="s1" x="479" y="75.4">216</tspan><tspan class="s2" x="479" y="88.4">64146</tspan><tspan class="s3" x="479" y="101.5">4.66%</tspan></text>
<text class="sc"><tspan class="s1" x="719" y="75.4">180</tspan><tspan class="s2" x="719" y="88.4">65874</tspan><tspan class="s3" x="719" y="101.5">0.00%</tspan></text>
<text class="sc"><tspan class="s1" x="959" y="75.4">216</tspan><tspan class="s2" x="959" y="88.4">67170</tspan><tspan class="s3" x="959" y="101.5">25.00%</tspan></text>
</g>

<g id="row16" transform="translate(31.3,2512.3)">
<use href="#staff"/>
<text class="mn" x="1" y="-7.6">61</text><text class="mn" x="241" y="-7.6">62</text><text class="mn" x="481" y="-7.6">63</text><text class="mn" x="721" y="-7.6">64</text>
<rect class="y" x="840" y="27" width="60" height="6"/>
<circle class="y" cx="0" cy="30" r="5.3"/><circle class="y" cx="60" cy="30" r="5.3"/><circle class="b" cx="90" cy="45" r="5.3"/><circle class="b" cx="120" cy="45" r="5.3"/><circle class="r" cx="180" cy="15" r="5.3"/><circle class="r" cx="210" cy="15" r="5.3"/><circle class="y" cx="240" cy="30" r="5.3"/><circle class="y" cx="300" cy="30" r="5.3"/><circle class="b" cx="330" cy="45" r="5.3"/><circle class="b" cx="360" cy="45" r="5.3"/><circle class="y" cx="420" cy="30" r="5.3"/><circle class="r" cx="450" cy="15" r="5.3"/><circle class="y" cx="480" cy="30" r="5.3"/><circle class="y" cx="540" cy="30" r="5.3"/><circle class="b" cx="570" cy="45" r="5.3"/><circle class="b" cx="600" cy="45" r="5.3"/><circle class="y" cx="660" cy="30" r="5.3"/><circle class="r" cx="690" cy="15" r="5.3"/><circle class="y" cx="720" cy="30" r="5.3"/><circle class="b" cx="780" cy="45" r="5.3"/><circle class="y" cx="840" cy="30" r="5.3"/>
<rect class="bl" x="60" y="0" width="480" height="60"/>
<text class="sc"><tspan class="s1" x="239" y="75.4">216</tspan><tspan class="s2" x="239" y="88.4">69546</tspan><tspan class="s3" x="239" y="101.5">15.60%</tspan></text>
<text class="sc"><tspan class="s1" x="479" y="75.4">216</tspan><tspan class="s2" x="479" y="88.4">72138</tspan><tspan class="s3" x="479" y="101.5">3.10%</tspan></text>
<text class="sc"><tspan class="s1" x="719" y="75.4">216</tspan><tspan class="s2" x="719" y="88.4">73866</tspan><tspan class="s3" x="719" y="101.5">0.00%</tspan></text>
<text class="sc"><tspan class="s1" x="959" y="75.4">133</tspan><tspan class="s2" x="959" y="88.4">74664</tspan><tspan class="s3" x="959" y="101.5">0.00%</tspan></text>
</g>

<g id="row17" transform="translate(31.3,2665.3)">
<use href="#staff"/>
<text class="mn" x="1" y="-7.6">65</text><text class="mn" x="241" y="-7.6">66</text><text class="mn" x="481" y="-7.6">67</text><text class="mn" x="721" y="-7.6">68</text>
<rect class="b" x="840" y="42" width="60" height="6"/>
<circle class="r" cx="30" cy="15" r="5.3"/><circle class="b" cx="60" cy="45" r="5.3"/><circle class="r" cx="90" cy="15" r="5.3"/><circle class="b" cx="120" cy="45" r="5.3"/><circle class="r" cx="150" cy="15" r="5.3"/><circle class="b" cx="180" cy="45" r="5.3"/><circle class="r" cx="210" cy="15" r="5.3"/><circle class="b" cx="240" cy="45" r="5.3"/><circle class="o" cx="300" cy="60" r="5.3"/><circle class="b" cx="360" cy="45" r="5.3"/><circle class="b" cx="480" cy="45" r="5.3"/><circle class="r" cx="510" cy="15" r="5.3"/><circle class="b" cx="540" cy="45" r="5.3"/><circle class="r" cx="570" cy="15" r="5.3"/><circle class="b" cx="660" cy="45" r="5.3"/><circle class="r" cx="690" cy="15" r="5.3"/>
<use href="#st" class="b" x="720" y="45"/><use href="#st" class="o" x="780" y="60"/><use href="#st" class="b" x="840" y="45"/>
<rect class="gr" x="720" y="0" width="180" height="60"/>
<text class="sc"><tspan class="s1" x="239" y="75.4">252</tspan><tspan class="s2" x="239" y="88.4">76176</tspan><tspan class="s3" x="239" y="101.5">0.00%</tspan></text>
<text class="sc"><tspan class="s1" x="479" y="75.4">108</tspan><tspan class="s2" x="479" y="88.4">76824</tspan><tspan class="s3" x="479" y="101.5">0.00%</tspan></text>
<text class="sc"><tspan class="s1" x="719" y="75.4">216</tspan><tspan class="s2" x="719" y="88.4">78120</tspan><tspan class="s3" x="719" y="101.5">0.00%</tspan></text>
<text class="sc"><tspan class="s1" x="959" y="75.4">133</tspan><tspan class="s2" x="959" y="88.4">78918</tspan><tspan class="s3" x="959" y="101.5">25.00%</tspan></text>
</g>

<g id="row18" transform="translate(31.3,2818.3)">
<use href="#staff"/>
<text class="tp" x="240" y="-33.3">♩=179</text><text class="tp" x="720" y="-33.3">♩=177</text><text class="tp" x="780" y="-33.3">♩=182</text><text class="tp" x="900" y="-33.3">♩=182</text>
<text class="mn" x="1" y="-7.6">69</text><text class="mn" x="241" y="-7.6">70</text><text class="mn" x="481" y="-7.6">71</text><text class="mn" x="721" y="-7.6">72</text>
<rect class="g" x="300" y="-3" width="60" height="6"/><rect class="o" x="420" y="57" width="60" height="6"/><rect class="b" x="510" y="42" width="75" height="6"/><rect class="b" x="840" y="42" width="60" height="6"/>
<circle class="r" cx="30" cy="15" r="5.3"/><circle class="b" cx="60" cy="45" r="5.3"/><circle class="r" cx="90" cy="15" r="5.3"/><circle class="b" cx="120" cy="45" r="5.3"/><circle class="r" cx="150" cy="15" r="5.3"/><circle class="b" cx="180" cy="45" r="5.3"/><circle class="r" cx="210" cy="15" r="5.3"/><circle class="b" cx="240" cy="45" r="5.3"/><circle class="g" cx="300" cy="0" r="5.3"/><circle class="g" cx="390" cy="0" r="5.3"/><circle class="o" cx="420" cy="60" r="5.3"/><circle class="b" cx="510" cy="45" r="5.3"/><circle class="o" cx="780" cy="60" r="5.3"/><circle class="b" cx="840" cy="45" r="5.3"/><circle class="r" cx="930" cy="15" r="5.3"/>
<rect class="bl" x="30" y="0" width="480" height="60"/>
<text class="sc"><tspan class="s1" x="239" y="75.4">252</tspan><tspan class="s2" x="239" y="88.4">81942</tspan><tspan class="s3" x="239" y="101.5">14.04%</tspan></text>
<text class="sc"><tspan class="s1" x="479" y="75.4">193</tspan><tspan class="s2" x="479" y="88.4">84258</tspan><tspan class="s3" x="479" y="101.5">1.54%</tspan></text>
<text class="sc"><tspan class="s1" x="719" y="75.4">69</tspan><tspan class="s2" x="719" y="88.4">84894</tspan><tspan class="s3" x="719" y="101.5">0.00%</tspan></text>
<text class="sc"><tspan class="s1" x="959" y="75.4">133</tspan><tspan class="s2" x="959" y="88.4">85692</tspan><tspan class="s3" x="959" y="101.5">0.00%</tspan></text>
</g>

<g id="row19" transform="translate(31.3,2971.3)">
<use href="#staff"/>
<text class="tp" x="0" y="-33.3">♩=177</text><text class="tp" x="180" y="-33.3">♩=180</text><text class="tp" x="240" y="-33.3">♩=180</text><text class="tp" x="420" y="-33.3">♩=177</text><text class="tp" x="540" y="-33.3">♩=179</text>
<text class="mn" x="1" y="-7.6">73</text><text class="mn" x="241" y="-7.6">74</text><text class="mn" x="481" y="-7.6">75</text><text class="mn" x="721" y="-7.6">76</text>
<rect class="g" x="120" y="-3" width="60" height="6"/><rect class="r" x="600" y="12" width="90" height="6"/><rect class="b" x="840" y="42" width="90" height="6"/>
<circle class="r" cx="0" cy="15" r="5.3"/><circle class="b" cx="30" cy="45" r="5.3"/><circle class="r" cx="60" cy="15" r="5.3"/><circle class="y" cx="90" cy="30" r="5.3"/><circle class="g" cx="120" cy="0" r="5.3"/><circle class="r" cx="240" cy="15" r="5.3"/><circle class="b" cx="270" cy="45" r="5.3"/><circle class="r" cx="300" cy="15" r="5.3"/><circle class="y" cx="330" cy="30" r="5.3"/><circle class="g" cx="360" cy="0" r="5.3"/><circle class="y" cx="420" cy="30" r="5.3"/><circle class="r" cx="480" cy="15" r="5.3"/><circle class="b" cx="510" cy="45" r="5.3"/><circle class="r" cx="540" cy="15" r="5.3"/><circle class="y" cx="570" cy="30" r="5.3"/><circle class="r" cx="600" cy="15" r="5.3"/>
<use href="#st" class="g" x="750" y="0"/><use href="#st" class="o" x="780" y="60"/><use href="#st" class="b" x="840" y="45"/>
<rect class="gr" x="750" y="0" width="180" height="60"/>
<text class="sc"><tspan class="s1" x="239" y="75.4">205</tspan><tspan class="s2" x="239" y="88.4">86922</tspan><tspan class="s3" x="239" y="101.5">0.00%</tspan></text>
<text class="sc"><tspan class="s1" x="479" y="75.4">216</tspan><tspan class="s2" x="479" y="88.4">88218</tspan><tspan class="s3" x="479" y="101.5">0.00%</tspan></text>
<text class="sc"><tspan class="s1" x="719" y="75.4">218</tspan><tspan class="s2" x="719" y="88.4">89526</tspan><tspan class="s3" x="719" y="101.5">0.00%</tspan></text>
<text class="sc"><tspan class="s1" x="959" y="75.4">146</tspan><tspan class="s2" x="959" y="88.4">90402</tspan><tspan class="s3" x="959" y="101.5">24.98%</tspan></text>
</g>

<g id="row20" transform="translate(31.3,3124.3)">
<use href="#staff"/>
<text class="tp" x="240" y="-33.3">♩=179</text><text class="tp" x="420" y="-33.3">♩=185</text><text class="tp" x="600" y="-33.3">♩=170</text><text class="tp" x="720" y="-33.3">♩=179</text>
<text class="mn" x="1" y="-7.6">77</text><text class="mn" x="241" y="-7.6">78</text><text class="mn" x="481" y="-7.6">79</text><text class="mn" x="721" y="-7.6">80</text>
<rect class="g" x="120" y="-3" width="60" height="6"/><rect class="g" x="600" y="-3" width="60" height="6"/><rect class="y" x="840" y="27" width="60" height="6"/>
<circle class="r" cx="0" cy="15" r="5.3"/><circle class="b" cx="30" cy="45" r="5.3"/><circle class="r" cx="60" cy="15" r="5.3"/><circle class="y" cx="90" cy="30" r="5.3"/><circle class="g" cx="120" cy="0" r="5.3"/><circle class="y" cx="210" cy="30" r="5.3"/><circle class="r" cx="240" cy="15" r="5.3"/><circle class="b" cx="270" cy="45" r="5.3"/><circle class="r" cx="300" cy="15" r="5.3"/><circle class="y" cx="330" cy="30" r="5.3"/><circle class="g" cx="360" cy="0" r="5.3"/><circle class="y" cx="420" cy="30" r="5.3"/><circle class="r" cx="480" cy="15" r="5.3"/><circle class="b" cx="510" cy="45" r="5.3"/><circle class="r" cx="540" cy="15" r="5.3"/><circle class="y" cx="570" cy="30" r="5.3"/><circle class="g" cx="600" cy="0" r="5.3"/><circle class="r" cx="720" cy="15" r="5.3"/><circle class="y" cx="750" cy="30" r="5.3"/><circle class="y" cx="780" cy="30" r="5.3"/><circle class="r" cx="810" cy="15" r="5.3"/><circle class="y" cx="840" cy="30" r="5.3"/>
<rect class="bl" x="0" y="0" width="480" height="60"/>
<text class="sc"><tspan class="s1" x="239" y="75.4">241</tspan><tspan class="s2" x="239" y="88.4">93294</tspan><tspan class="s3" x="239" y="101.5">12.48%</tspan></text>
<text class="sc"><tspan class="s1" x="479" y="75.4">216</tspan><tspan class="s2" x="479" y="88.4">95886</tspan><tspan class="s3" x="479" y="101.5">0.00%</tspan></text>
<text class="sc"><tspan class="s1" x="719" y="75.4">205</tspan><tspan class="s2" x="719" y="88.4">97332</tspan><tspan class="s3" x="719" y="101.5">0.00%</tspan></text>
<text class="sc"><tspan class="s1" x="959" y="75.4">205</tspan><tspan class="s2" x="959" y="88.4">98562</tspan><tspan class="s3" x="959" y="101.5">0.00%</tspan></text>
</g>

<g id="row21" transform="translate(31.3,3277.3)">
<use href="#staff"/>
<text class="mn" x="1" y="-7.6">81</text><text class="mn" x="241" y="-7.6">82</text><text class="mn" x="481" y="-7.6">83</text><text class="mn" x="721" y="-7.6">84</text>
<rect class="b" x="120" y="42" width="60" height="6"/><rect class="y" x="600" y="27" width="60" height="6"/><rect class="y" x="840" y="27" width="60" height="6"/>
<circle class="r" cx="0" cy="15" r="5.3"/><circle class="b" cx="30" cy="45" r="5.3"/><circle class="b" cx="60" cy="45" r="5.3"/><circle class="r" cx="90" cy="15" r="5.3"/><circle class="b" cx="120" cy="45" r="5.3"/><circle class="b" cx="240" cy="45" r="5.3"/><circle class="r" cx="270" cy="15" r="5.3"/><circle class="b" cx="300" cy="45" r="5.3"/><circle class="r" cx="330" cy="15" r="5.3"/><circle class="o" cx="360" cy="60" r="5.3"/><circle class="b" cx="420" cy="45" r="5.3"/><circle class="r" cx="480" cy="15" r="5.3"/><circle class="y" cx="510" cy="30" r="5.3"/><circle class="y" cx="540" cy="30" r="5.3"/><circle class="r" cx="570" cy="15" r="5.3"/><circle class="y" cx="600" cy="30" r="5.3"/>
<use href="#st" class="r" x="720" y="15"/><use href="#st" class="y" x="750" y="30"/><use href="#st" class="y" x="780" y="30"/><use href="#st" class="r" x="810" y="15"/><use href="#st" class="y" x="840" y="30"/>
<rect class="gr" x="720" y="0" width="180" height="60"/>
<text class="sc"><tspan class="s1" x="239" y="75.4">205</tspan><tspan class="s2" x="239" y="88.4">99792</tspan><tspan class="s3" x="239" y="101.5">0.00%</tspan></text>
<text class="sc"><tspan class="s1" x="479" y="75.4">216</tspan><tspan class="s2" x="479" y="88.4">101088</tspan><tspan class="s3" x="479" y="101.5">0.00%</tspan></text>
<text class="sc"><tspan class="s1" x="719" y="75.4">205</tspan><tspan class="s2" x="719" y="88.4">102318</tspan><tspan class="s3" x="719" y="101.5">0.00%</tspan></text>
<text class="sc"><tspan class="s1" x="959" y="75.4">205</tspan><tspan class="s2" x="959" y="88.4">103548</tspan><tspan class="s3" x="959" y="101.5">25.00%</tspan></text>
</g>

<g id="row22" transform="translate(31.3,3430.3)">
<use href="#staff"/>
<text class="mn" x="1" y="-7.6">85</text><text class="mn" x="241" y="-7.6">86</text><text class="mn" x="481" y="-7.6">87</text><text class="mn" x="721" y="-7.6">88</text>
<rect class="b" x="120" y="42" width="60" height="6"/><rect class="b" x="720" y="42" width="60" height="6"/><rect class="r" x="810" y="12" width="60" height="6"/><rect class="y" x="900" y="27" width="60" height="6"/>
<circle class="r" cx="0" cy="15" r="5.3"/><circle class="b" cx="30" cy="45" r="5.3"/><circle class="b" cx="60" cy="45" r="5.3"/><circle class="r" cx="90" cy="15" r="5.3"/><circle class="b" cx="120" cy="45" r="5.3"/><circle class="b" cx="240" cy="45" r="5.3"/><circle class="r" cx="270" cy="15" r="5.3"/><circle class="b" cx="300" cy="45" r="5.3"/><circle class="r" cx="330" cy="15" r="5.3"/><circle class="o" cx="360" cy="60" r="5.3"/><circle class="b" cx="420" cy="45" r="5.3"/><circle class="r" cx="480" cy="15" r="5.3"/><circle class="y" cx="510" cy="30" r="5.3"/><circle class="y" cx="540" cy="30" r="5.3"/><circle class="r" cx="570" cy="15" r="5.3"/><circle class="g" cx="600" cy="0" r="5.3"/><circle class="y" cx="630" cy="30" r="5.3"/><circle class="b" cx="660" cy="45" r="5.3"/><circle class="b" cx="720" cy="45" r="5.3"/><circle class="r" cx="810" cy="15" r="5.3"/><circle class="y" cx="900" cy="30" r="5.3"/>
<rect class="bl" x="240" y="0" width="480" height="60"/>
<text class="sc"><tspan class="s1" x="239" y="75.4">205</tspan><tspan class="s2" x="239" y="88.4">104778</tspan><tspan class="s3" x="239" y="101.5">24.98%</tspan></text>
<text class="sc"><tspan class="s1" x="479" y="75.4">216</tspan><tspan class="s2" x="479" y="88.4">107370</tspan><tspan class="s3" x="479" y="101.5">12.48%</tspan></text>
<text class="sc"><tspan class="s1" x="719" y="75.4">252</tspan><tspan class="s2" x="719" y="88.4">110394</tspan><tspan class="s3" x="719" y="101.5">0.00%</tspan></text>
<text class="sc"><tspan class="s1" x="959" y="75.4">182</tspan><tspan class="s2" x="959" y="88.4">111702</tspan><tspan class="s3" x="959" y="101.5">0.00%</tspan></text>
</g>

<g id="row23" transform="translate(31.3,3583.3)">
<use href="#staff"/>
<text class="mn" x="1" y="-7.6">89</text><text class="mn" x="241" y="-7.6">90</text><text class="mn" x="481" y="-7.6">91</text><text class="mn" x="721" y="-7.6">92</text>
<rect class="g" x="30" y="-3" width="60" height="6"/><rect class="r" x="120" y="12" width="105" height="6"/><rect class="b" x="720" y="42" width="60" height="6"/><rect class="r" x="810" y="12" width="60" height="6"/><rect class="y" x="900" y="27" width="60" height="6"/>
<circle class="g" cx="30" cy="0" r="5.3"/><circle class="r" cx="120" cy="15" r="5.3"/><circle class="y" cx="360" cy="30" r="5.3"/><circle class="b" cx="400" cy="45" r="5.3"/><circle class="b" cx="440" cy="45" r="5.3"/><circle class="o" cx="480" cy="60" r="5.3"/><circle class="r" cx="520" cy="15" r="5.3"/><circle class="b" cx="560" cy="45" r="5.3"/><circle class="b" cx="600" cy="45" r="5.3"/><circle class="y" cx="660" cy="30" r="5.3"/>
<use href="#st" class="b" x="720" y="45"/><use href="#st" class="r" x="810" y="15"/><use href="#st" class="y" x="900" y="30"/>
<rect class="gr" x="720" y="0" width="240" height="60"/>
<text class="sc"><tspan class="s1" x="239" y="75.4">142</tspan><tspan class="s2" x="239" y="88.4">112554</tspan><tspan class="s3" x="239" y="101.5">0.00%</tspan></text>
<text class="sc"><tspan class="s1" x="479" y="75.4">108</tspan><tspan class="s2" x="479" y="88.4">113202</tspan><tspan class="s3" x="479" y="101.5">0.00%</tspan></text>
<text class="sc"><tspan class="s1" x="719" y="75.4">180</tspan><tspan class="s2" x="719" y="88.4">114282</tspan><tspan class="s3" x="719" y="101.5">0.00%</tspan></text>
<text class="sc"><tspan class="s1" x="959" y="75.4">182</tspan><tspan class="s2" x="959" y="88.4">115374</tspan><tspan class="s3" x="959" y="101.5">25.00%</tspan></text>
</g>

<g id="row24" transform="translate(31.3,3736.3)">
<use href="#staff"/>
<text class="tp" x="720" y="-33.3">♩=179</text>
<text class="mn" x="1" y="-7.6">93</text><text class="mn" x="241" y="-7.6">94</text><text class="mn" x="481" y="-7.6">95</text><text class="mn" x="721" y="-7.6">96</text>
<rect class="g" x="30" y="-3" width="60" height="6"/><rect class="r" x="120" y="12" width="105" height="6"/><rect class="y" x="660" y="27" width="60" height="6"/>
<circle class="g" cx="30" cy="0" r="5.3"/><circle class="r" cx="120" cy="15" r="5.3"/><circle class="y" cx="360" cy="30" r="5.3"/><circle class="b" cx="400" cy="45" r="5.3"/><circle class="b" cx="440" cy="45" r="5.3"/><circle class="o" cx="480" cy="60" r="5.3"/><circle class="r" cx="520" cy="15" r="5.3"/><circle class="b" cx="560" cy="45" r="5.3"/><circle class="b" cx="600" cy="45" r="5.3"/><circle class="y" cx="660" cy="30" r="5.3"/>
<text class="sc"><tspan class="s1" x="239" y="75.4">142</tspan><tspan class="s2" x="239" y="88.4">116226</tspan><tspan class="s3" x="239" y="101.5">25.00%</tspan></text>
<text class="sc"><tspan class="s1" x="479" y="75.4">108</tspan><tspan class="s2" x="479" y="88.4">116874</tspan><tspan class="s3" x="479" y="101.5">25.00%</tspan></text>
<text class="sc"><tspan class="s1" x="719" y="75.4">204</tspan><tspan class="s2" x="719" y="88.4">118098</tspan><tspan class="s3" x="719" y="101.5">25.00%</tspan></text>
<text class="sc"><tspan class="s1" x="959" y="75.4">1</tspan><tspan class="s2" x="959" y="88.4">118104</tspan><tspan class="s3" x="959" y="101.5">25.00%</tspan></text>
</g>

<g id="row25" transform="translate(31.3,3889.3)">
<use href="#staff"/>
<text class="tp" x="0" y="-33.3">♩=179</text><text class="tp" x="240" y="-33.3">♩=178</text><text class="tp" x="300" y="-33.3">♩=179</text><text class="tp" x="360" y="-33.3">♩=180</text><text class="tp" x="420" y="-33.3">♩=178</text><text class="tp" x="480" y="-33.3">♩=179</text><text class="tp" x="540" y="-33.3">♩=180</text><text class="tp" x="660" y="-33.3">♩=179</text><text class="tp" x="720" y="-33.3">♩=179</text><text class="tp" x="900" y="-33.3">♩=180</text>
<text class="mn" x="1" y="-7.6">97</text><text class="mn" x="241" y="-7.6">98</text><text class="mn" x="481" y="-7.6">99</text><text class="mn" x="721" y="-7.6">100</text>
<circle class="o" cx="330" cy="60" r="5.3"/><circle class="g" cx="390" cy="0" r="5.3"/><circle class="b" cx="420" cy="45" r="5.3"/><circle class="g" cx="450" cy="0" r="5.3"/><circle class="y" cx="480" cy="30" r="5.3"/><circle class="g" cx="510" cy="0" r="5.3"/><circle class="g" cx="540" cy="0" r="5.3"/><circle class="b" cx="570" cy="45" r="5.3"/><circle class="g" cx="630" cy="0" r="5.3"/><circle class="y" cx="660" cy="30" r="5.3"/><circle class="g" cx="690" cy="0" r="5.3"/><circle class="y" cx="720" cy="30" r="5.3"/><circle class="g" cx="750" cy="0" r="5.3"/><circle class="b" cx="810" cy="45" r="5.3"/><circle class="g" cx="870" cy="0" r="5.3"/><circle class="y" cx="900" cy="30" r="5.3"/><circle class="g" cx="930" cy="0" r="5.3"/>
<rect class="bl" x="330" y="0" width="480" height="60"/>
<text class="sc"><tspan class="s1" x="239" y="75.4">0</tspan><tspan class="s2" x="239" y="88.4">118104</tspan><tspan class="s3" x="239" y="101.5">25.00%</tspan></text>
<text class="sc"><tspan class="s1" x="479" y="75.4">144</tspan><tspan class="s2" x="479" y="88.4">119832</tspan><tspan class="s3" x="479" y="101.5">17.16%</tspan></text>
<text class="sc"><tspan class="s1" x="719" y="75.4">252</tspan><tspan class="s2" x="719" y="88.4">122856</tspan><tspan class="s3" x="719" y="101.5">4.66%</tspan></text>
<text class="sc"><tspan class="s1" x="959" y="75.4">216</tspan><tspan class="s2" x="959" y="88.4">124800</tspan><tspan class="s3" x="959" y="101.5">0.00%</tspan></text>
</g>

<g id="row26" transform="translate(31.3,4042.3)">
<use href="#staff"/>
<text class="tp" x="0" y="-33.3">♩=179</text><text class="tp" x="180" y="-33.3">♩=179</text><text class="tp" x="420" y="-33.3">♩=178</text><text class="tp" x="480" y="-33.3">♩=179</text><text class="tp" x="660" y="-33.3">♩=179</text>
<text class="mn" x="1" y="-7.6">101</text><text class="mn" x="241" y="-7.6">102</text><text class="mn" x="481" y="-7.6">103</text><text class="mn" x="721" y="-7.6">104</text>
<rect class="r" x="480" y="12" width="60" height="6"/><rect class="g" x="660" y="-3" width="180" height="6"/>
<circle class="y" cx="0" cy="30" r="5.3"/><circle class="g" cx="30" cy="0" r="5.3"/><circle class="g" cx="60" cy="0" r="5.3"/><circle class="b" cx="90" cy="45" r="5.3"/><circle class="r" cx="150" cy="15" r="5.3"/><circle class="b" cx="180" cy="45" r="5.3"/><circle class="y" cx="240" cy="30" r="5.3"/><circle class="g" cx="270" cy="0" r="5.3"/><circle class="o" cx="330" cy="60" r="5.3"/><circle class="g" cx="390" cy="0" r="5.3"/><circle class="y" cx="420" cy="30" r="5.3"/><circle class="r" cx="480" cy="15" r="5.3"/><circle class="y" cx="570" cy="30" r="5.3"/><circle class="g" cx="660" cy="0" r="5.3"/>
<text class="sc"><tspan class="s1" x="239" y="75.4">216</tspan><tspan class="s2" x="239" y="88.4">126096</tspan><tspan class="s3" x="239" y="101.5">0.00%</tspan></text>
<text class="sc"><tspan class="s1" x="479" y="75.4">180</tspan><tspan class="s2" x="479" y="88.4">127176</tspan><tspan class="s3" x="479" y="101.5">0.00%</tspan></text>
<text class="sc"><tspan class="s1" x="719" y="75.4">157</tspan><tspan class="s2" x="719" y="88.4">128118</tspan><tspan class="s3" x="719" y="101.5">0.00%</tspan></text>
<text class="sc"><tspan class="s1" x="959" y="75.4">51</tspan><tspan class="s2" x="959" y="88.4">128424</tspan><tspan class="s3" x="959" y="101.5">0.00%</tspan></text>
</g>
</g>
</svg>
